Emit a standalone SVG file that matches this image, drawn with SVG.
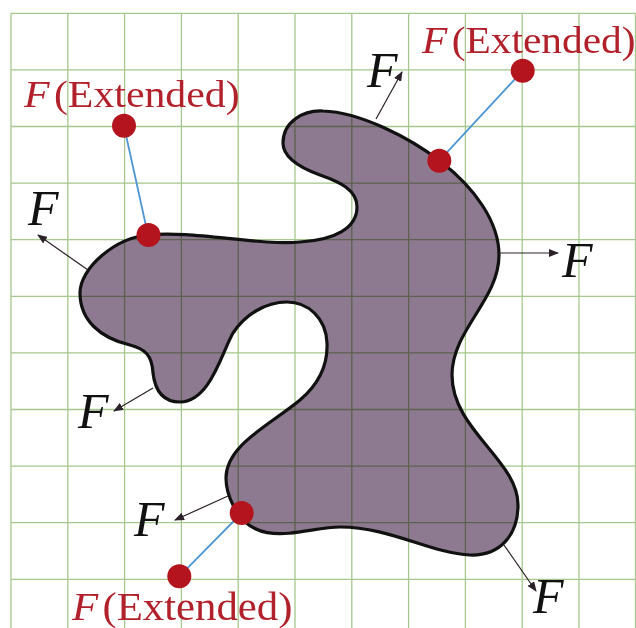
<svg xmlns="http://www.w3.org/2000/svg" width="636" height="628" viewBox="0 0 636 628">
<defs>
<style>
.grid{fill:none;stroke:#a6c88c;stroke-width:1.3;mix-blend-mode:multiply}
.body{fill:#8d7a90;stroke:none}
.outline{fill:none;stroke:#111;stroke-width:3.2;stroke-linejoin:round}
.dot{fill:#b3141d}
.ext{stroke:#4f97d3;stroke-width:1.8;fill:none}
.force{stroke:#2a2228;stroke-width:1.2;fill:none;marker-end:url(#ah)}
.lblF{font-family:"Liberation Serif","Times New Roman",serif;font-style:italic;font-size:50px;fill:#111}
.red{font-family:"Liberation Serif","Times New Roman",serif;font-size:38px;fill:#b2212b}
.it{font-style:italic}
</style>
<marker id="ah" viewBox="0 0 10 8" refX="9" refY="4" markerWidth="10" markerHeight="8" markerUnits="userSpaceOnUse" orient="auto">
<path d="M0,0 L10,4 L0,8 Z" fill="#2a2228"/>
</marker>
</defs>
<rect width="636" height="628" fill="#ffffff"/>
<g id="shape">
<path id="body" class="body" d="M148,235 C190,230 260,246 300,242 C335,240 357,228 357,207 C357,190 340,182 320,175 C298,167 283,157 283,143 C283,122 303,110 323,111 C360,112 410,138 440,161 C475,188 499,222 499,255 C499,300 452,330 452,375 C452,430 518,460 518,505 C518,535 500,556 470,555 C430,553 390,527 340,527 C305,527 255,552 233,505 C228,495 226,488 226,478 C226,445 270,425 300,400 C320,383 328,365 327,343 C326,318 308,302 287,302 C265,302 245,315 233,333 C222,352 210,402 180,402 C162,402 155,390 153,373 C152,355 145,349 130,345 C100,338 80,320 80,293 C80,268 115,238 148,235 Z"/>
</g>
<g id="grid">
<path class="grid" d="M11,13.3V628 M67.8,13.3V628 M124.6,13.3V628 M181.4,13.3V628 M238.2,13.3V628 M295,13.3V628 M351.8,13.3V628 M408.6,13.3V628 M465.4,13.3V628 M522.2,13.3V628 M579,13.3V628 M635.5,13.3V628 M11,13.3H636 M11,69.9H636 M11,126.5H636 M11,183.1H636 M11,239.7H636 M11,296.3H636 M11,352.9H636 M11,409.5H636 M11,466.1H636 M11,522.7H636 M11,579.3H636"/>
</g>
<g id="outline">
<path class="outline" d="M148,235 C190,230 260,246 300,242 C335,240 357,228 357,207 C357,190 340,182 320,175 C298,167 283,157 283,143 C283,122 303,110 323,111 C360,112 410,138 440,161 C475,188 499,222 499,255 C499,300 452,330 452,375 C452,430 518,460 518,505 C518,535 500,556 470,555 C430,553 390,527 340,527 C305,527 255,552 233,505 C228,495 226,488 226,478 C226,445 270,425 300,400 C320,383 328,365 327,343 C326,318 308,302 287,302 C265,302 245,315 233,333 C222,352 210,402 180,402 C162,402 155,390 153,373 C152,355 145,349 130,345 C100,338 80,320 80,293 C80,268 115,238 148,235 Z"/>
</g>
<g id="connectors">
<line class="ext" x1="124" y1="126" x2="148" y2="235"/>
<line class="ext" x1="522.7" y1="70.7" x2="439.3" y2="160.7"/>
<line class="ext" x1="241.7" y1="513" x2="179.3" y2="576.3"/>
<line class="force" x1="88" y1="270" x2="38" y2="235"/>
<line class="force" x1="376" y1="119" x2="402" y2="72"/>
<line class="force" x1="499" y1="253" x2="558" y2="253"/>
<line class="force" x1="153" y1="388" x2="114" y2="411"/>
<line class="force" x1="228" y1="496" x2="175" y2="520"/>
<line class="force" x1="504" y1="545" x2="536" y2="591"/>
</g>
<g id="dot-tl-ext"><circle class="dot" cx="124" cy="125.7" r="12"/></g>
<g id="dot-tl"><circle class="dot" cx="148.5" cy="235" r="12"/></g>
<g id="dot-tr-ext"><circle class="dot" cx="522.7" cy="70.7" r="12"/></g>
<g id="dot-tr"><circle class="dot" cx="439.3" cy="160.7" r="12"/></g>
<g id="dot-bl"><circle class="dot" cx="241.7" cy="513" r="12"/></g>
<g id="dot-bl-ext"><circle class="dot" cx="179.3" cy="576.3" r="12"/></g>
<g id="label-ext-tl"><text class="red" transform="translate(24,107) scale(1.1,1)"><tspan class="it">F</tspan><tspan dx="4">(Extended)</tspan></text></g>
<g id="label-ext-tr"><text class="red" transform="translate(422,53) scale(1.09,1)"><tspan class="it">F</tspan><tspan dx="4">(Extended)</tspan></text></g>
<g id="label-ext-b"><text class="red" transform="translate(72,620) scale(1.07,1)" style="font-size:40px"><tspan class="it">F</tspan><tspan dx="4">(Extended)</tspan></text></g>
<g id="label-f-tl"><text class="lblF" x="28" y="225">F</text></g>
<g id="label-f-t"><text class="lblF" x="367" y="87">F</text></g>
<g id="label-f-r"><text class="lblF" x="562" y="277">F</text></g>
<g id="label-f-l"><text class="lblF" x="78" y="428">F</text></g>
<g id="label-f-bl"><text class="lblF" x="134" y="536">F</text></g>
<g id="label-f-br"><text class="lblF" x="533" y="613">F</text></g>
</svg>
